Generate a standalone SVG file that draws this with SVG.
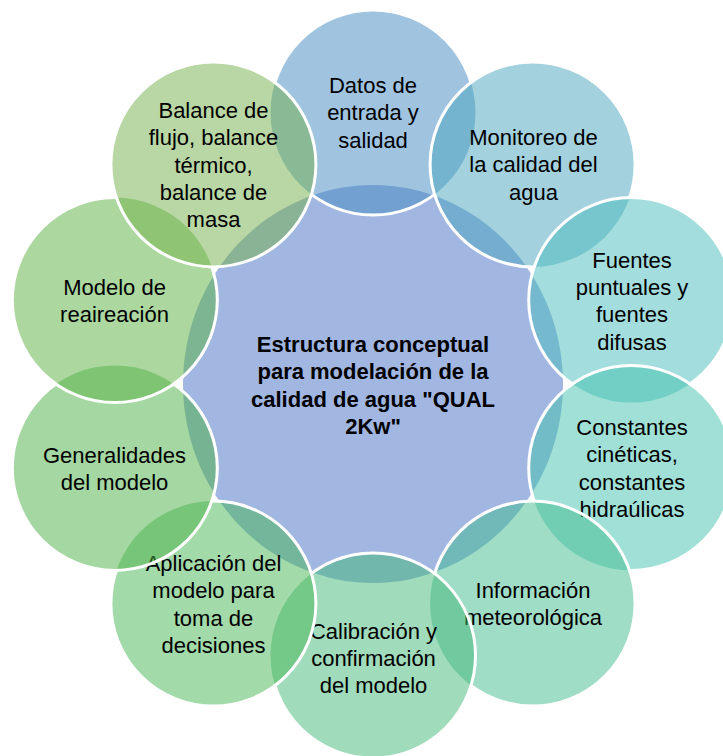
<svg xmlns="http://www.w3.org/2000/svg" xmlns:xlink="http://www.w3.org/1999/xlink" width="723" height="756" viewBox="0 0 723 756">
<style>
.t{font-family:"Liberation Sans",Arial,sans-serif;font-size:22px;fill:#000;text-anchor:middle}
.b{font-weight:bold}
.f{fill-opacity:0.5;stroke:none}
.ring{fill:none;stroke:#fff;stroke-width:3}
</style>
<defs>
<circle id="c1" cx="373" cy="112.5" r="102.5"/>
<circle id="c2" cx="532.6" cy="164.4" r="102.5"/>
<circle id="c3" cx="631.2" cy="300.1" r="102.5"/>
<circle id="c4" cx="631.2" cy="467.9" r="102.5"/>
<circle id="c5" cx="532.6" cy="603.6" r="102.5"/>
<circle id="c6" cx="373" cy="655.5" r="102.5"/>
<circle id="c7" cx="213.4" cy="603.6" r="102.5"/>
<circle id="c8" cx="114.8" cy="467.9" r="102.5"/>
<circle id="c9" cx="114.8" cy="300.1" r="102.5"/>
<circle id="c10" cx="213.4" cy="164.4" r="102.5"/>
<mask id="m1" maskUnits="userSpaceOnUse" x="0" y="0" width="723" height="756"><rect width="723" height="756" fill="#fff"/><use xlink:href="#c2" fill="#000"/><use xlink:href="#c10" fill="#000"/></mask>
<mask id="m2" maskUnits="userSpaceOnUse" x="0" y="0" width="723" height="756"><rect width="723" height="756" fill="#fff"/><use xlink:href="#c3" fill="#000"/></mask>
<mask id="m3" maskUnits="userSpaceOnUse" x="0" y="0" width="723" height="756"><rect width="723" height="756" fill="#fff"/><use xlink:href="#c4" fill="#000"/></mask>
<mask id="m4" maskUnits="userSpaceOnUse" x="0" y="0" width="723" height="756"><rect width="723" height="756" fill="#fff"/><use xlink:href="#c5" fill="#000"/></mask>
<mask id="m5" maskUnits="userSpaceOnUse" x="0" y="0" width="723" height="756"><rect width="723" height="756" fill="#fff"/><use xlink:href="#c6" fill="#000"/></mask>
<mask id="m6" maskUnits="userSpaceOnUse" x="0" y="0" width="723" height="756"><rect width="723" height="756" fill="#fff"/><use xlink:href="#c7" fill="#000"/></mask>
<mask id="m7" maskUnits="userSpaceOnUse" x="0" y="0" width="723" height="756"><rect width="723" height="756" fill="#fff"/><use xlink:href="#c8" fill="#000"/></mask>
<mask id="m8" maskUnits="userSpaceOnUse" x="0" y="0" width="723" height="756"><rect width="723" height="756" fill="#fff"/><use xlink:href="#c9" fill="#000"/></mask>
<mask id="m9" maskUnits="userSpaceOnUse" x="0" y="0" width="723" height="756"><rect width="723" height="756" fill="#fff"/><use xlink:href="#c10" fill="#000"/></mask>
</defs>
<rect width="723" height="756" fill="#fff"/>
<g id="node-center">
<ellipse cx="373" cy="384" rx="190" ry="199" fill="#A1B6E1"/>
<text class="t b" x="373"><tspan x="373" y="352">Estructura conceptual</tspan><tspan x="373" y="379.4">para modelación de la</tspan><tspan x="373" y="406.8">calidad de agua "QUAL</tspan><tspan x="373" y="434.2">2Kw"</tspan></text>
</g>
<g id="node-datos">
<use xlink:href="#c1" class="f" fill="#4189C1"/>
<text class="t"><tspan x="373" y="93">Datos de</tspan><tspan x="373" y="120.4">entrada y</tspan><tspan x="373" y="147.8">salidad</tspan></text>
<use xlink:href="#c1" class="ring" mask="url(#m1)"/>
</g>
<g id="node-monitoreo">
<use xlink:href="#c2" class="f" fill="#47A3BD"/>
<text class="t"><tspan x="533.5" y="144.9">Monitoreo de</tspan><tspan x="533.5" y="172.3">la calidad del</tspan><tspan x="533.5" y="199.7">agua</tspan></text>
<use xlink:href="#c2" class="ring" mask="url(#m2)"/>
</g>
<g id="node-fuentes">
<use xlink:href="#c3" class="f" fill="#47BBBB"/>
<text class="t"><tspan x="632" y="267.5">Fuentes</tspan><tspan x="632" y="294.9">puntuales y</tspan><tspan x="632" y="322.3">fuentes</tspan><tspan x="632" y="349.7">difusas</tspan></text>
<use xlink:href="#c3" class="ring" mask="url(#m3)"/>
</g>
<g id="node-constantes">
<use xlink:href="#c4" class="f" fill="#41C1AD"/>
<text class="t"><tspan x="632" y="435">Constantes</tspan><tspan x="632" y="462.4">cinéticas,</tspan><tspan x="632" y="489.8">constantes</tspan><tspan x="632" y="517.2">hidraúlicas</tspan></text>
<use xlink:href="#c4" class="ring" mask="url(#m4)"/>
</g>
<g id="node-informacion">
<use xlink:href="#c5" class="f" fill="#41BB8F"/>
<text class="t"><tspan x="533" y="597.5">Información</tspan><tspan x="533" y="625">meteorológica</tspan></text>
<use xlink:href="#c5" class="ring" mask="url(#m5)"/>
</g>
<g id="node-calibracion">
<use xlink:href="#c6" class="f" fill="#41B777"/>
<text class="t"><tspan x="373.5" y="638.5">Calibración y</tspan><tspan x="373.5" y="666">confirmación</tspan><tspan x="373.5" y="693.4">del modelo</tspan></text>
<use xlink:href="#c6" class="ring" mask="url(#m6)"/>
</g>
<g id="node-aplicacion">
<use xlink:href="#c7" class="f" fill="#47B555"/>
<text class="t"><tspan x="213.5" y="571">Aplicación del</tspan><tspan x="213.5" y="598.4">modelo para</tspan><tspan x="213.5" y="625.8">toma de</tspan><tspan x="213.5" y="653.2">decisiones</tspan></text>
<use xlink:href="#c7" class="ring" mask="url(#m7)"/>
</g>
<g id="node-generalidades">
<use xlink:href="#c8" class="f" fill="#4BAF45"/>
<text class="t"><tspan x="114.5" y="462.8">Generalidades</tspan><tspan x="114.5" y="490.2">del modelo</tspan></text>
<use xlink:href="#c8" class="ring" mask="url(#m8)"/>
</g>
<g id="node-modelo">
<use xlink:href="#c9" class="f" fill="#59B141"/>
<text class="t"><tspan x="114.5" y="294.8">Modelo de</tspan><tspan x="114.5" y="322.2">reaireación</tspan></text>
<use xlink:href="#c9" class="ring" mask="url(#m9)"/>
</g>
<g id="node-balance">
<use xlink:href="#c10" class="f" fill="#73AF49"/>
<text class="t"><tspan x="213.5" y="117.8">Balance de</tspan><tspan x="213.5" y="145.2">flujo, balance</tspan><tspan x="213.5" y="172.6">térmico,</tspan><tspan x="213.5" y="200">balance de</tspan><tspan x="213.5" y="227.4">masa</tspan></text>
<use xlink:href="#c10" class="ring"/>
</g>
<g id="connectors"/>
</svg>
